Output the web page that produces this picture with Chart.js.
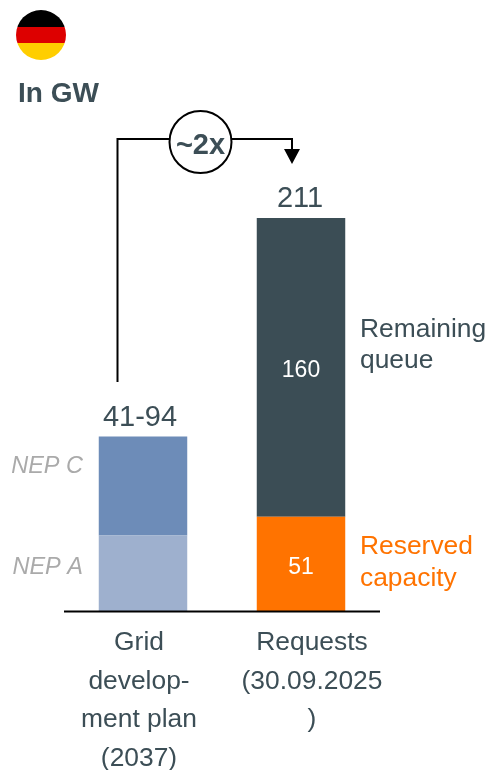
<!DOCTYPE html>
<html><head><meta charset="utf-8">
<style>html,body{margin:0;padding:0;background:#fff}#w{width:490px;height:770px;position:relative}</style>
<script src="https://cdn.jsdelivr.net/npm/chart.js@4"></script></head>
<body><div id="w"><canvas id="c"></canvas></div>
<script>
const categories = [["Grid","develop-","ment plan","(2037)"],["Requests","(30.09.2025",")"]];
const nepA = [41, null];
const nepCExtra = [53, null];
const reserved = [null, 51];
const remaining = [null, 160];
const totalLabels = ["41-94", "211"];
const yMax = 211;

const TEXT = "#3C4E56", FONT = '"Liberation Sans", Arial, sans-serif';
function txt(ctx, s, x, y, size, color, align, style) {
  ctx.font = (style ? style + " " : "") + size + "px " + FONT;
  ctx.fillStyle = color; ctx.textAlign = align || "center"; ctx.textBaseline = "middle";
  ctx.fillText(s, x, y);
}
const deco = {
  id: "deco",
  afterDatasetsDraw(chart) {
    const { ctx, scales: { x, y }, chartArea: a } = chart;
    const x0 = x.getPixelForValue(0), x1 = x.getPixelForValue(1);
    ctx.save();
    // baseline
    ctx.strokeStyle = "#000"; ctx.lineWidth = 2;
    ctx.beginPath(); ctx.moveTo(a.left, y.getPixelForValue(0) - 0.5); ctx.lineTo(a.right, y.getPixelForValue(0) - 0.5); ctx.stroke();
    // category labels
    const offs = [-4, 11];
    categories.forEach((lines, i) => lines.forEach((s, k) => {
      txt(ctx, s, x.getPixelForValue(i) + offs[i], 643 + k * 38.5, 26.4, TEXT);
    }));
    // flag
    ctx.save(); ctx.beginPath(); ctx.arc(41, 35, 25, 0, Math.PI * 2); ctx.clip();
    ctx.fillStyle = "#000"; ctx.fillRect(15, 10, 52, 17);
    ctx.fillStyle = "#DD0000"; ctx.fillRect(15, 27, 52, 16);
    ctx.fillStyle = "#FFCE00"; ctx.fillRect(15, 43, 52, 17);
    ctx.restore();
    txt(ctx, "In GW", 18, 94, 28, TEXT, "left", "bold");
    // connector
    ctx.strokeStyle = "#000"; ctx.lineWidth = 2;
    ctx.beginPath(); ctx.moveTo(117.5, 382); ctx.lineTo(117.5, 139); ctx.lineTo(292, 139); ctx.lineTo(292, 150); ctx.stroke();
    ctx.fillStyle = "#000"; ctx.beginPath(); ctx.moveTo(284, 149); ctx.lineTo(300, 149); ctx.lineTo(292, 164); ctx.closePath(); ctx.fill();
    ctx.beginPath(); ctx.arc(200.5, 142, 31, 0, Math.PI * 2); ctx.fillStyle = "#fff"; ctx.fill(); ctx.lineWidth = 2; ctx.stroke();
    txt(ctx, "~2x", 200.5, 146, 29, TEXT, "center", "bold");
    // totals
    txt(ctx, totalLabels[0], x0 - 3, 418, 29, TEXT);
    txt(ctx, totalLabels[1], x1 - 1, 199, 29, TEXT);
    // segment labels
    const mid = (a1, b1) => (y.getPixelForValue(a1) + y.getPixelForValue(b1)) / 2;
    txt(ctx, String(remaining[1]), x1, mid(reserved[1], reserved[1] + remaining[1]) + 3, 23, "#fff");
    txt(ctx, String(reserved[1]), x1, mid(0, reserved[1]) + 3, 23, "#fff");
    txt(ctx, "NEP C", 83, 466, 23.5, "#AAAAAA", "right", "italic");
    txt(ctx, "NEP A", 83, 567, 23.5, "#AAAAAA", "right", "italic");
    txt(ctx, "Remaining", 360, 330, 26.4, TEXT, "left");
    txt(ctx, "queue", 360, 361, 26.4, TEXT, "left");
    txt(ctx, "Reserved", 360, 547, 26.4, "#FF7300", "left");
    txt(ctx, "capacity", 360, 579, 26.4, "#FF7300", "left");
    ctx.restore();
  }
};
new Chart(document.getElementById("c"), {
  type: "bar",
  data: {
    labels: categories,
    datasets: [
      { label: "NEP A", data: nepA, backgroundColor: "#9EB0CE" },
      { label: "NEP C", data: nepCExtra, backgroundColor: "#6D8CB8" },
      { label: "Reserved capacity", data: reserved, backgroundColor: "#FF7300" },
      { label: "Remaining queue", data: remaining, backgroundColor: "#3B4D55" }
    ]
  },
  options: {
    responsive: true, maintainAspectRatio: false, animation: false,
    layout: { padding: { left: 64, right: 110, top: 218, bottom: 158 } },
    plugins: { legend: { display: false }, tooltip: { enabled: false } },
    datasets: { bar: { barPercentage: 0.56, categoryPercentage: 1 } },
    scales: {
      x: { stacked: true, grid: { display: false, drawTicks: false }, border: { display: false }, ticks: { display: false } },
      y: { stacked: true, display: false, min: 0, max: yMax }
    }
  },
  plugins: [deco]
});
</script></body></html>
